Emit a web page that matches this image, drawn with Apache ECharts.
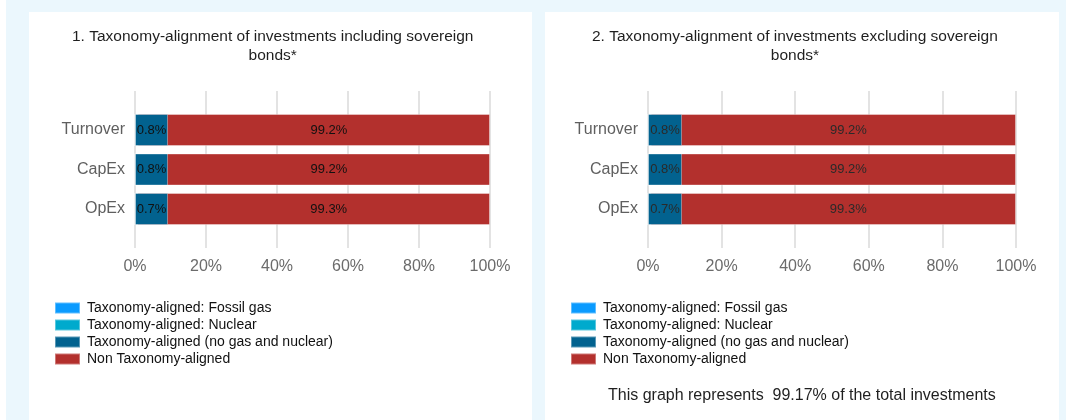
<!DOCTYPE html>
<html>
<head>
<meta charset="utf-8">
<script src="https://cdn.jsdelivr.net/npm/echarts@6/dist/echarts.min.js"></script>
<style>
    body { margin: 0; width: 1066px; height: 420px; background: #ebf7fd; position: relative; overflow: hidden; }
    .strip { position: absolute; left: 0; top: 0; width: 6px; height: 420px; background: #fff; }
    .panel { position: absolute; top: 12px; height: 408px; background: #fff; }
    #chart1 { left: 29px; width: 503px; }
    #chart2 { left: 545px; width: 514px; }
</style>
</head>
<body>
<div class="strip"></div>
<div class="panel" id="chart1"></div>
<div class="panel" id="chart2"></div>
<script>
// categories, top to bottom
const categories = ['Turnover', 'CapEx', 'OpEx'];
const xTicks = [0, 20, 40, 60, 80, 100];
const legendNames = [
    'Taxonomy-aligned: Fossil gas',
    'Taxonomy-aligned: Nuclear',
    'Taxonomy-aligned (no gas and nuclear)',
    'Non Taxonomy-aligned'
];

// chart 1: including sovereign bonds
const fossilGas1 = [0, 0, 0];
const nuclear1 = [0, 0, 0];
const aligned1 = [0.8, 0.8, 0.7];
const nonAligned1 = [99.2, 99.2, 99.3];

// chart 2: excluding sovereign bonds
const fossilGas2 = [0, 0, 0];
const nuclear2 = [0, 0, 0];
const aligned2 = [0.8, 0.8, 0.7];
const nonAligned2 = [99.2, 99.2, 99.3];

const shareOfTotal = '99.17%';

const colors = ['#0a9bff', '#00aacd', '#02628f', '#b3302d'];
const font = '"Liberation Sans", Arial, sans-serif';

function build(o) {
    const seriesData = [o.fossil, o.nuclear, o.aligned, o.nonAligned];
    const series = seriesData.map((d, i) => ({
        name: legendNames[i],
        type: 'bar',
        stack: 'total',
        xAxisIndex: 1,
        yAxisIndex: 1,
        barWidth: 32,
        data: d,
        z: i === 2 ? 4 : 2,
        // the small aligned share is drawn with a minimum length, like the original
        barMinHeight: i === 2 ? o.minLen : 0,
        itemStyle: { color: colors[i], borderColor: 'rgba(255,255,255,0.35)', borderWidth: 1 },
        label: {
            show: i >= 2,
            position: 'inside',
            offset: i === 3 ? [15, 0] : [0, 0],
            formatter: p => p.value + '%',
            fontFamily: font,
            fontSize: 13,
            color: o.labelColor
        }
    }));
    return {
        animation: false,
        textStyle: { fontFamily: font },
        graphic: [
            {
                type: 'text', left: o.titleX, top: 15,
                style: {
                    text: o.title, font: '15.5px ' + font, fill: '#1f1f1f',
                    textAlign: 'center', lineHeight: 19
                }
            }
        ].concat(o.extra || []),
        legend: {
            orient: 'vertical',
            left: 20, top: 284,
            icon: 'rect',
            itemWidth: 25, itemHeight: 11, itemGap: 3,
            data: legendNames,
            selectedMode: false,
            textStyle: { fontSize: 14, lineHeight: 12, color: '#111', fontFamily: font, padding: [0, 0, 0, 2] }
        },
        grid: [
            { left: o.left, right: o.right, top: 79, height: 157 },
            { left: o.left, right: o.right, top: 98.25, height: 118.5 }
        ],
        xAxis: [
            {
                gridIndex: 0, type: 'value', min: 0, max: 100, interval: 20,
                axisLine: { show: false }, axisTick: { show: false },
                splitLine: { lineStyle: { color: '#e3e3e3', width: 2 } },
                axisLabel: { formatter: '{value}%', fontSize: 16, color: '#6b6b6b', margin: 11, fontFamily: font }
            },
            { gridIndex: 1, type: 'value', min: 0, max: 100, show: false }
        ],
        yAxis: [
            { gridIndex: 0, type: 'value', show: false },
            {
                gridIndex: 1, type: 'category', data: categories, inverse: true,
                axisLine: { show: false }, axisTick: { show: false },
                axisLabel: { fontSize: 16, color: '#5f5f5f', margin: 10, fontFamily: font }
            }
        ],
        series: series
    };
}

const c1 = echarts.init(document.getElementById('chart1'));
c1.setOption(build({
    title: '1. Taxonomy-alignment of investments including sovereign\nbonds*',
    titleX: 43, left: 106, right: 42, minLen: 33, labelColor: '#111',
    fossil: fossilGas1, nuclear: nuclear1, aligned: aligned1, nonAligned: nonAligned1
}));

const c2 = echarts.init(document.getElementById('chart2'));
c2.setOption(build({
    title: '2. Taxonomy-alignment of investments excluding sovereign\nbonds*',
    titleX: 47, left: 103, right: 43, minLen: 34, labelColor: '#2a2a2a',
    fossil: fossilGas2, nuclear: nuclear2, aligned: aligned2, nonAligned: nonAligned2,
    extra: [{
        type: 'text', left: 63, top: 376,
        style: { text: 'This graph represents  ' + shareOfTotal + ' of the total investments', font: '16px ' + font, fill: '#1f1f1f' }
    }]
}));
</script>
</body>
</html>
